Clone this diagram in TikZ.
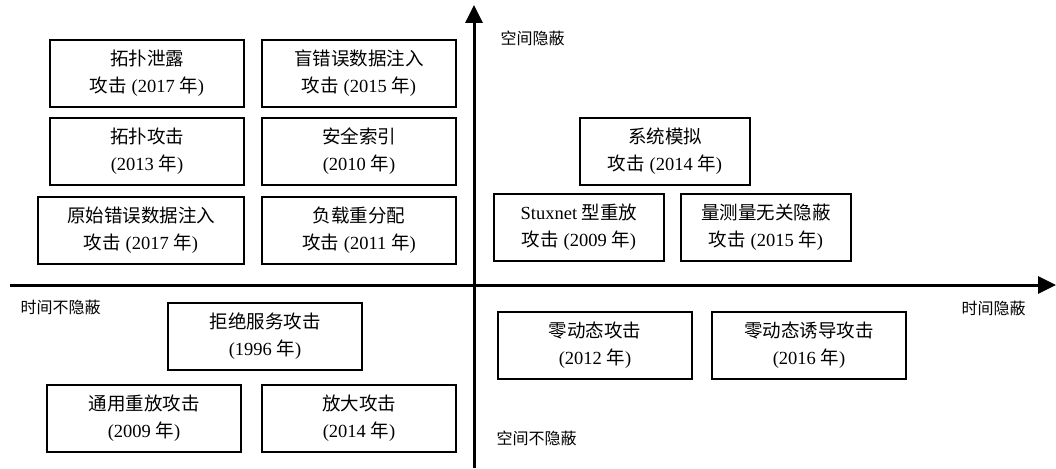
\documentclass[tikz,border=0pt]{standalone}
\usepackage{fontspec}
\setmainfont{Liberation Serif}
\newfontfamily\zhfont{Noto Sans CJK SC}
\newcommand{\zh}[1]{{\zhfont #1}}
\usetikzlibrary{arrows.meta}

\begin{document}
\begin{tikzpicture}[x=1pt,y=-1pt,
    box/.style={draw,line width=1.2pt,minimum width=194pt,minimum height=67pt,align=center,font=\fontsize{18.5}{27}\selectfont},
    axis/.style={line width=3pt,-{Triangle[length=18pt,width=17pt]}},
    lbl/.style={anchor=west,font=\fontsize{16}{19}\selectfont}]
    \useasboundingbox (0,0) rectangle (1056,468);
    % upper left
    \node at (147,73.5) [box] (tpxl) {\zh{拓扑泄露}\\\zh{攻击} (2017 \zh{年})};
    \node at (359,73.5) [box] (mcw) {\zh{盲错误数据注入}\\\zh{攻击} (2015 \zh{年})};
    \node at (147,151.5) [box] (tpgj) {\zh{拓扑攻击}\\(2013 \zh{年})};
    \node at (359,151.5) [box] (aqsy) {\zh{安全索引}\\(2010 \zh{年})};
    \node at (141,230.5) [box,minimum width=206pt] (yscw) {\zh{原始错误数据注入}\\\zh{攻击} (2017 \zh{年})};
    \node at (359,230.5) [box] (fzcf) {\zh{负载重分配}\\\zh{攻击} (2011 \zh{年})};
    % upper right
    \node at (665,151.5) [box,minimum width=170pt] (xtmn) {\zh{系统模拟}\\\zh{攻击} (2014 \zh{年})};
    \node at (579,227.5) [box,minimum width=170pt] (stux) {Stuxnet \zh{型重放}\\\zh{攻击} (2009 \zh{年})};
    \node at (766,227.5) [box,minimum width=170pt] (lcl) {\zh{量测量无关隐蔽}\\\zh{攻击} (2015 \zh{年})};
    % lower half
    \node at (265,336.5) [box] (jjfw) {\zh{拒绝服务攻击}\\(1996 \zh{年})};
    \node at (595,345.5) [box] (ldt) {\zh{零动态攻击}\\(2012 \zh{年})};
    \node at (809,345.5) [box] (ldtyd) {\zh{零动态诱导攻击}\\(2016 \zh{年})};
    \node at (144,418.5) [box] (tycf) {\zh{通用重放攻击}\\(2009 \zh{年})};
    \node at (359,418.5) [box] (fdgj) {\zh{放大攻击}\\(2014 \zh{年})};
    % axes
    \coordinate (xl) at (10,285);
    \coordinate (xr) at (1056,285);
    \coordinate (yb) at (474,468);
    \coordinate (yt) at (474,5);
    \draw[axis] (xl) -- (xr);
    \draw[axis] (yb) -- (yt);
    \node at (497,38) [lbl] (kjyb) {\zh{空间隐蔽}};
    \node at (17,307) [lbl] (sjbyb) {\zh{时间不隐蔽}};
    \node at (958,308) [lbl] (sjyb) {\zh{时间隐蔽}};
    \node at (493,438) [lbl] (kjbyb) {\zh{空间不隐蔽}};
\end{tikzpicture}
\end{document}
